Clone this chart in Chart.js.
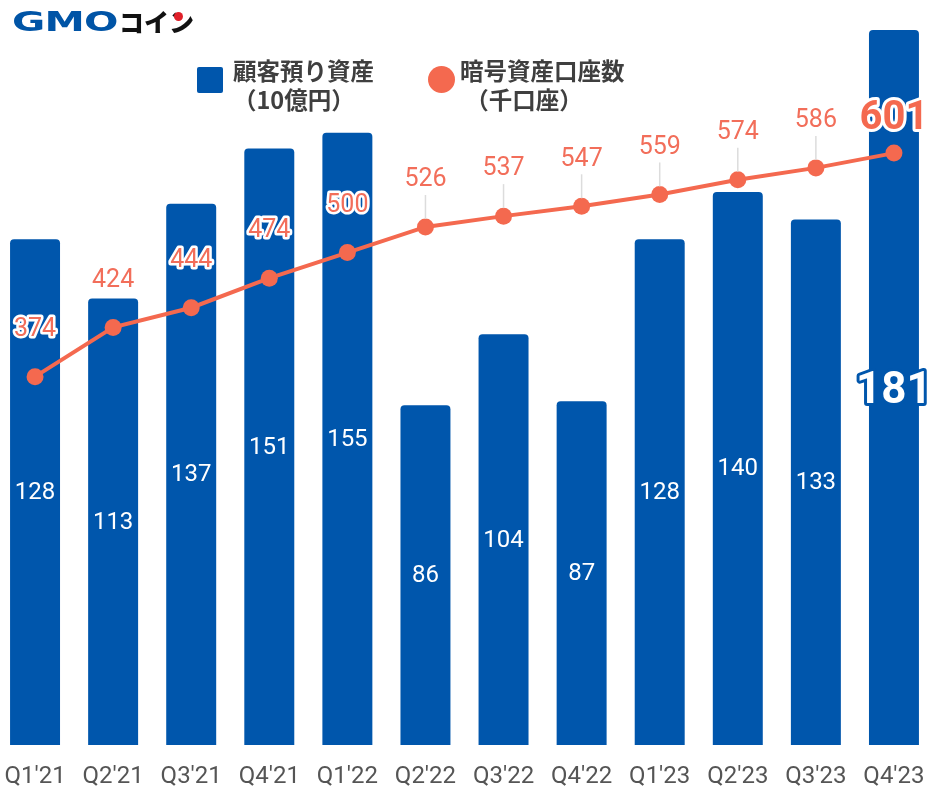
<!DOCTYPE html>
<html><head><meta charset="utf-8">
<script src="https://cdn.jsdelivr.net/npm/chart.js@4"></script>
<style>
html,body{margin:0;padding:0;background:#fff;width:932px;height:788px;overflow:hidden;position:relative;font-family:Roboto,"Noto Sans CJK JP",sans-serif}
#wrap{position:absolute;left:-4.5px;top:0;width:937px;height:788px}
.logo{position:absolute;left:12px;top:4px;height:34px;white-space:nowrap}
.gmo{position:absolute;left:0;top:3px;font-family:"DejaVu Sans";font-weight:bold;font-size:27px;color:#0054a6;transform:scaleX(1.5);transform-origin:left top;line-height:30px;letter-spacing:-0.5px}
.coin{position:absolute;left:107px;top:2px;font-family:"Noto Sans CJK JP";font-weight:900;font-size:25px;color:#111;line-height:30px}
.dot{position:absolute;left:162px;top:8px;width:9px;height:9px;border-radius:50%;background:#e0202a}
.lg{position:absolute;font-family:"Noto Sans CJK JP";font-weight:bold;font-size:23.5px;color:#3f3f3f;line-height:29px;white-space:nowrap}
.sq{position:absolute;left:197px;top:67px;width:26px;height:26px;background:#0056ac;border-radius:2px}
.ci{position:absolute;left:428px;top:66px;width:27px;height:27px;background:#f4694f;border-radius:50%}
</style></head>
<body>
<div id="wrap"><canvas id="c"></canvas></div>
<div class="logo"><span class="gmo">GMO</span><span class="coin">コイン</span><span class="dot"></span></div>
<div class="sq"></div>
<div class="lg" style="left:233px;top:56px">顧客預り資産<br>（10億円）</div>
<div class="ci"></div>
<div class="lg" style="left:460px;top:56px">暗号資産口座数<br>&nbsp;（千口座）</div>
<script>
const categories = ["Q1'21","Q2'21","Q3'21","Q4'21","Q1'22","Q2'22","Q3'22","Q4'22","Q1'23","Q2'23","Q3'23","Q4'23"];
const assets = [128,113,137,151,155,86,104,87,128,140,133,181];
const accounts = [374,424,444,474,500,526,537,547,559,574,586,601];

const BLUE = '#0056ac';
const SALMON = '#f4694f';
const LABEL_SALMON = '#f26e5a';

const labelPlugin = {
  id: 'labels',
  afterDatasetsDraw(chart) {
    const ctx = chart.ctx;
    const barMeta = chart.getDatasetMeta(0);
    const lineMeta = chart.getDatasetMeta(1);
    const last = categories.length - 1;
    ctx.save();
    ctx.textAlign = 'center';
    ctx.textBaseline = 'middle';
    ctx.lineJoin = 'round';
    barMeta.data.forEach((bar, i) => {
      const y = (bar.y + bar.base) / 2;
      const txt = String(assets[i]);
      if (i === last) {
        ctx.font = 'bold 44px Roboto';
        ctx.lineWidth = 6;
        ctx.strokeStyle = BLUE;
        ctx.strokeText(txt, bar.x, y + 4);
        ctx.fillStyle = '#fff';
        ctx.fillText(txt, bar.x, y + 4);
      } else {
        ctx.font = '24px Roboto';
        ctx.fillStyle = '#fff';
        ctx.fillText(txt, bar.x, y + 1);
      }
    });
    lineMeta.data.forEach((pt, i) => {
      const txt = String(accounts[i]);
      if (i === last) {
        const ly = pt.y - 34;
        ctx.font = 'bold 40px Roboto';
        ctx.lineWidth = 6;
        ctx.strokeStyle = '#fff';
        ctx.strokeText(txt, pt.x, ly);
        ctx.fillStyle = SALMON;
        ctx.fillText(txt, pt.x, ly);
        return;
      }
      const ly = pt.y - 47;
      if (i >= 5) {
        ctx.strokeStyle = '#dcdcdc';
        ctx.lineWidth = 1.5;
        ctx.beginPath();
        ctx.moveTo(pt.x, ly + 15);
        ctx.lineTo(pt.x, pt.y - 8);
        ctx.stroke();
      }
      ctx.font = '25px Roboto';
      ctx.lineWidth = 5;
      ctx.strokeStyle = '#fff';
      ctx.strokeText(txt, pt.x, ly);
      ctx.fillStyle = LABEL_SALMON;
      ctx.fillText(txt, pt.x, ly);
    });
    ctx.restore();
  }
};

new Chart(document.getElementById('c'), {
  data: {
    labels: categories,
    datasets: [
      {
        type: 'bar', data: assets, yAxisID: 'y', order: 2,
        backgroundColor: BLUE, borderRadius: 4, borderSkipped: 'bottom',
        categoryPercentage: 1, barPercentage: 0.64
      },
      {
        type: 'line', data: accounts, yAxisID: 'y1', order: 1,
        borderColor: SALMON, backgroundColor: SALMON, borderWidth: 4,
        pointRadius: 8.5, pointHoverRadius: 8.5, pointBorderWidth: 0,
        tension: 0, clip: false
      }
    ]
  },
  options: {
    responsive: true, maintainAspectRatio: false, animation: false,
    layout: { autoPadding: false, padding: { top: 30, left: 0, right: 0, bottom: 0 } },
    plugins: { legend: { display: false }, tooltip: { enabled: false } },
    scales: {
      x: {
        grid: { display: false, drawTicks: false }, border: { display: false },
        ticks: { color: '#555', font: { family: 'Roboto', size: 24 }, padding: 18, maxRotation: 0, autoSkip: false },
        afterFit(s) { s.height = 43; s.paddingLeft = 0; s.paddingRight = 0; }
      },
      y: { display: false, min: 0, max: 181 },
      y1: { display: false, min: 0, max: 726 }
    }
  },
  plugins: [labelPlugin]
});
</script>
</body></html>
